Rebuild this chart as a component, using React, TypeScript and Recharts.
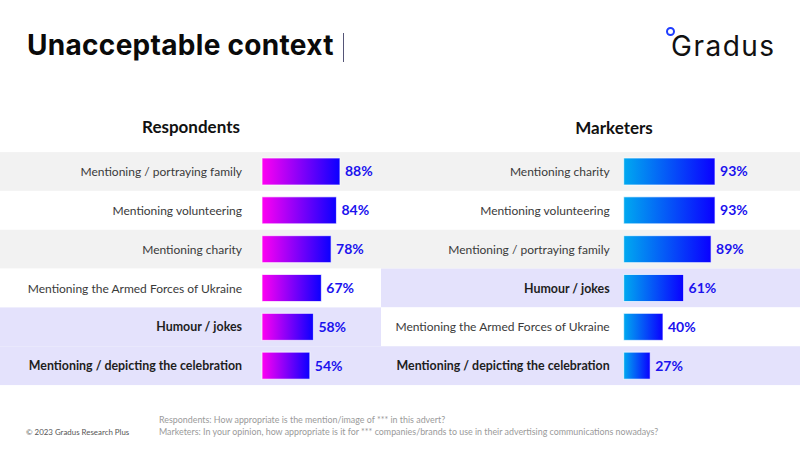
import React from "react";
import { BarChart, Bar, XAxis, YAxis, LabelList } from "recharts";

const respondentsCategories = [
  "Mentioning / portraying family",
  "Mentioning volunteering",
  "Mentioning charity",
  "Mentioning the Armed Forces of Ukraine",
  "Humour / jokes",
  "Mentioning / depicting the celebration",
];
const respondentsValues = [88, 84, 78, 67, 58, 54];
const respondentsHighlight = [false, false, false, false, true, true];

const marketersCategories = [
  "Mentioning charity",
  "Mentioning volunteering",
  "Mentioning / portraying family",
  "Humour / jokes",
  "Mentioning the Armed Forces of Ukraine",
  "Mentioning / depicting the celebration",
];
const marketersValues = [93, 93, 89, 61, 40, 27];
const marketersHighlight = [false, false, false, true, false, true];

const FONT = "Lato, 'Noto Sans', sans-serif";
const CHART_H = 400;
const M_TOP = 152;
const M_BOTTOM = 15;

type Row = { name: string; value: number; hl: boolean; idx: number; bg: string };

const build = (cats: string[], vals: number[], hl: boolean[]): Row[] => {
  let plain = 0;
  return cats.map((name, i) => {
    let bg = "#e4e2fc";
    if (!hl[i]) {
      bg = plain % 2 === 0 ? "#f2f2f2" : "#ffffff";
      plain += 1;
    }
    return { name, value: vals[i], hl: hl[i], idx: i, bg };
  });
};

interface PanelProps {
  data: Row[];
  width: number;
  left: number;
  right: number;
  gradId: string;
  gradFrom: string;
  gradTo: string;
  labelGap: number;
}

function Panel({ data, width, left, right, gradId, gradFrom, gradTo, labelGap }: PanelProps) {
  const band = (CHART_H - M_TOP - M_BOTTOM) / data.length;
  const shape = (p: any) => {
    const { x, y, width: w, height: h, payload } = p;
    const by = y - (band - h) / 2;
    return (
      <g>
        <rect x={0} y={by} width={width} height={band} fill={payload.bg} />
        <rect
          x={x}
          y={y}
          width={Math.max(w, 0)}
          height={h}
          fill={`url(#${gradId})`}
          stroke="#ffffff"
          strokeOpacity={0.7}
          strokeWidth={1}
        />
      </g>
    );
  };
  const catLabel = (p: any) => {
    const { x, y, height, index } = p;
    const r = data[index];
    return (
      <text
        x={x - labelGap}
        y={y + height / 2}
        textAnchor="end"
        dominantBaseline="central"
        fontFamily={FONT}
        fontSize={r.hl ? 12.4 : 12}
        fontWeight={r.hl ? 700 : 400}
        fill={r.hl ? "#1e1e1e" : "#3a3a3a"}
      >
        {r.name}
      </text>
    );
  };
  return (
    <BarChart
      width={width}
      height={CHART_H}
      data={data}
      layout="vertical"
      margin={{ top: M_TOP, bottom: M_BOTTOM, left, right }}
    >
      <defs>
        <linearGradient id={gradId} x1="0" y1="0" x2="1" y2="0">
          <stop offset="0%" stopColor={gradFrom} />
          <stop offset="100%" stopColor={gradTo} />
        </linearGradient>
      </defs>
      <XAxis type="number" domain={[0, 100]} hide />
      <YAxis type="category" dataKey="name" hide />
      <Bar dataKey="value" barSize={27} shape={shape} isAnimationActive={false}>
        <LabelList dataKey="name" content={catLabel} />
        <LabelList
          dataKey="value"
          position="right"
          offset={5}
          formatter={(v: any) => `${v}%`}
          fill="#1b12ee"
          fontFamily={FONT}
          fontSize={14}
          fontWeight={700}
        />
      </Bar>
    </BarChart>
  );
}

export default function App() {
  const resp = build(respondentsCategories, respondentsValues, respondentsHighlight);
  const mark = build(marketersCategories, marketersValues, marketersHighlight);
  return (
    <div
      style={{
        position: "absolute",
        left: 0,
        top: 0,
        width: 800,
        height: 450,
        background: "#ffffff",
        fontFamily: FONT,
        overflow: "hidden",
      }}
    >
      <div style={{ position: "absolute", left: 0, top: 0 }}>
        <Panel
          data={resp}
          width={381}
          left={262}
          right={30.4}
          gradId="gradResp"
          gradFrom="#ff00f2"
          gradTo="#0a00ff"
          labelGap={20}
        />
      </div>
      <div style={{ position: "absolute", left: 381, top: 0 }}>
        <Panel
          data={mark}
          width={419}
          left={242.7}
          right={78.1}
          gradId="gradMark"
          gradFrom="#00a9f0"
          gradTo="#0a00ff"
          labelGap={14}
        />
      </div>

      <div
        style={{
          position: "absolute",
          left: 27,
          top: 27,
          fontFamily: "Inter, Lato, sans-serif",
          fontSize: 28,
          fontWeight: 700,
          color: "#0a0a0a",
          lineHeight: "36px",
          letterSpacing: 0.3,
          whiteSpace: "nowrap",
        }}
      >
        Unacceptable context
      </div>
      <div style={{ position: "absolute", left: 343, top: 33, width: 1, height: 29, background: "#555577" }} />

      <div
        style={{
          position: "absolute",
          left: 191,
          top: 116,
          transform: "translateX(-50%)",
          fontSize: 17,
          fontWeight: 700,
          color: "#111",
          lineHeight: "22px",
          whiteSpace: "nowrap",
        }}
      >
        Respondents
      </div>
      <div
        style={{
          position: "absolute",
          left: 614,
          top: 117,
          transform: "translateX(-50%)",
          fontSize: 17,
          fontWeight: 700,
          color: "#111",
          lineHeight: "22px",
          whiteSpace: "nowrap",
        }}
      >
        Marketers
      </div>

      <div
        style={{
          position: "absolute",
          left: 666,
          top: 27,
          width: 5,
          height: 5,
          borderRadius: "50%",
          border: "2px solid #1f3dff",
        }}
      />
      <div
        style={{
          position: "absolute",
          left: 671,
          top: 29,
          fontFamily: "Inter, Lato, sans-serif",
          fontSize: 28,
          fontWeight: 400,
          color: "#111",
          lineHeight: "34px",
          letterSpacing: 1.5,
        }}
      >
        Gradus
      </div>

      <div
        style={{ position: "absolute", left: 26, top: 427, fontSize: 7.9, color: "#555", whiteSpace: "nowrap" }}
      >
        © 2023 Gradus Research Plus
      </div>
      <div
        style={{
          position: "absolute",
          left: 159,
          top: 414,
          fontSize: 8.9,
          color: "#9a9a9a",
          lineHeight: "12px",
          whiteSpace: "nowrap",
        }}
      >
        <div>Respondents: How appropriate is the mention/image of *** in this advert?</div>
        <div>Marketers: In your opinion, how appropriate is it for *** companies/brands to use in their advertising communications nowadays?</div>
      </div>
    </div>
  );
}
